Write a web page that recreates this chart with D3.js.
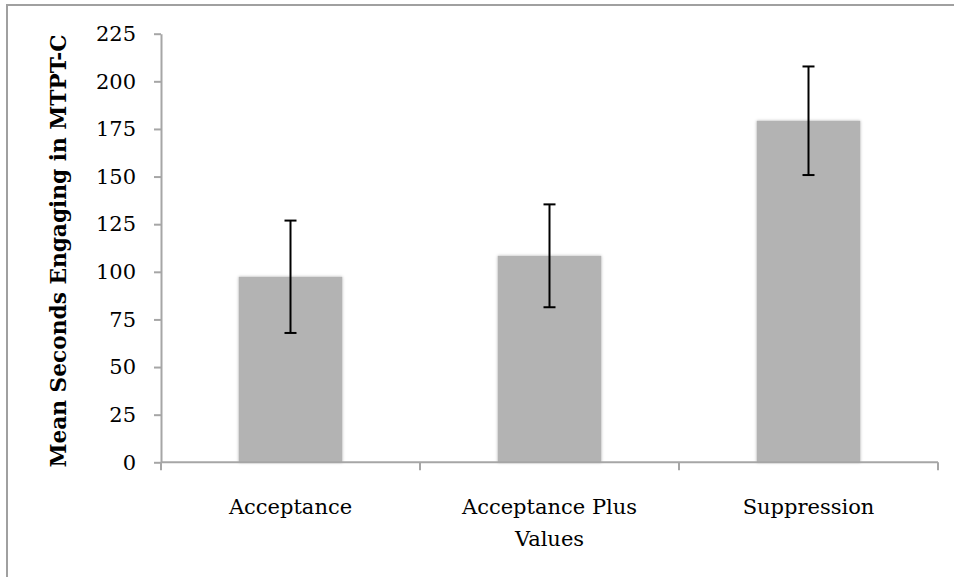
<!DOCTYPE html>
<html>
<head>
<meta charset="utf-8">
<script src="https://cdn.jsdelivr.net/npm/d3@7"></script>
<style>
  html, body { margin: 0; padding: 0; background: #fff; }
  svg { display: block; }
</style>
</head>
<body>
<svg id="chart" width="954" height="577"></svg>
<script>
const categories = [["Acceptance"], ["Acceptance Plus", "Values"], ["Suppression"]];
const categoryKeys = ["Acceptance", "Acceptance Plus Values", "Suppression"];
const means = [97.4, 108.4, 179.3];
const errors = [29.5, 27.0, 28.5];
const yTicks = [0, 25, 50, 75, 100, 125, 150, 175, 200, 225];
const yTitle = "Mean Seconds Engaging in MTPT-C";

const svg = d3.select("#chart");
const axisColor = "#a6a6a6";
const font = "'DejaVu Serif', serif";

// outer border
svg.append("rect")
  .attr("x", 7).attr("y", 5)
  .attr("width", 960).attr("height", 600)
  .attr("fill", "none").attr("stroke", "#a0a0a0").attr("stroke-width", 2);

const pLeft = 161, pRight = 938, pTop = 33.7, pBottom = 462.3;

const x = d3.scaleBand().domain(categoryKeys).range([pLeft, pRight])
  .paddingInner(0.6).paddingOuter(0.3);
const y = d3.scaleLinear().domain([0, 225]).range([pBottom, pTop]);

const defs = svg.append("defs");
const f = defs.append("filter").attr("id", "shadow")
  .attr("x", "-10%").attr("y", "-5%").attr("width", "120%").attr("height", "110%");
f.append("feDropShadow").attr("dx", 0).attr("dy", 0).attr("stdDeviation", 1.6)
  .attr("flood-color", "#000").attr("flood-opacity", 0.28);

// bars
svg.append("g").selectAll("rect").data(categoryKeys).join("rect")
  .attr("x", d => x(d))
  .attr("y", (d, i) => y(means[i]))
  .attr("width", x.bandwidth())
  .attr("height", (d, i) => y(0) - y(means[i]))
  .attr("fill", "#b3b3b3")
  .attr("filter", "url(#shadow)");

// y axis
const yAxis = d3.axisLeft(y).tickValues(yTicks).tickSize(7).tickPadding(18).tickSizeOuter(0);
const gy = svg.append("g").attr("transform", `translate(${pLeft},0)`).call(yAxis);
gy.select(".domain").attr("stroke", axisColor).attr("stroke-width", 2);
gy.selectAll(".tick line").attr("stroke", axisColor).attr("stroke-width", 2);
gy.selectAll(".tick text").attr("font-family", font).attr("font-size", 21).attr("fill", "#000");

// x axis
const xEdges = [pLeft, ...categoryKeys.map(d => x(d) + x.bandwidth() / 2 + x.step() / 2)];
const gx = svg.append("g");
gx.append("line").attr("x1", pLeft).attr("x2", pRight).attr("y1", pBottom).attr("y2", pBottom)
  .attr("stroke", axisColor).attr("stroke-width", 2);
gx.selectAll(".xt").data(xEdges).join("line").attr("class", "xt")
  .attr("x1", d => d).attr("x2", d => d).attr("y1", pBottom).attr("y2", pBottom + 8)
  .attr("stroke", axisColor).attr("stroke-width", 2);

// category labels
const lab = svg.append("g").selectAll("text").data(categoryKeys).join("text")
  .attr("x", d => x(d) + x.bandwidth() / 2)
  .attr("y", 514)
  .attr("text-anchor", "middle")
  .attr("font-family", font).attr("font-size", 21).attr("fill", "#000");
lab.each(function(d, i) {
  const t = d3.select(this);
  categories[i].forEach((line, j) => {
    t.append("tspan").attr("x", x(d) + x.bandwidth() / 2).attr("dy", j === 0 ? 0 : 32).text(line);
  });
});

// error bars
const eg = svg.append("g").attr("stroke", "#000").attr("stroke-width", 2);
categoryKeys.forEach((d, i) => {
  const cx = x(d) + x.bandwidth() / 2;
  const lo = y(means[i] - errors[i]), hi = y(means[i] + errors[i]);
  eg.append("line").attr("x1", cx).attr("x2", cx).attr("y1", lo).attr("y2", hi);
  eg.append("line").attr("x1", cx - 6).attr("x2", cx + 6).attr("y1", lo).attr("y2", lo);
  eg.append("line").attr("x1", cx - 6).attr("x2", cx + 6).attr("y1", hi).attr("y2", hi);
});

// y title
svg.append("text")
  .attr("transform", `translate(66,${(pTop + pBottom) / 2 + 3}) rotate(-90)`)
  .attr("text-anchor", "middle")
  .attr("font-family", font).attr("font-weight", "bold").attr("font-size", 21.7)
  .attr("fill", "#000")
  .text(yTitle);
</script>
</body>
</html>
